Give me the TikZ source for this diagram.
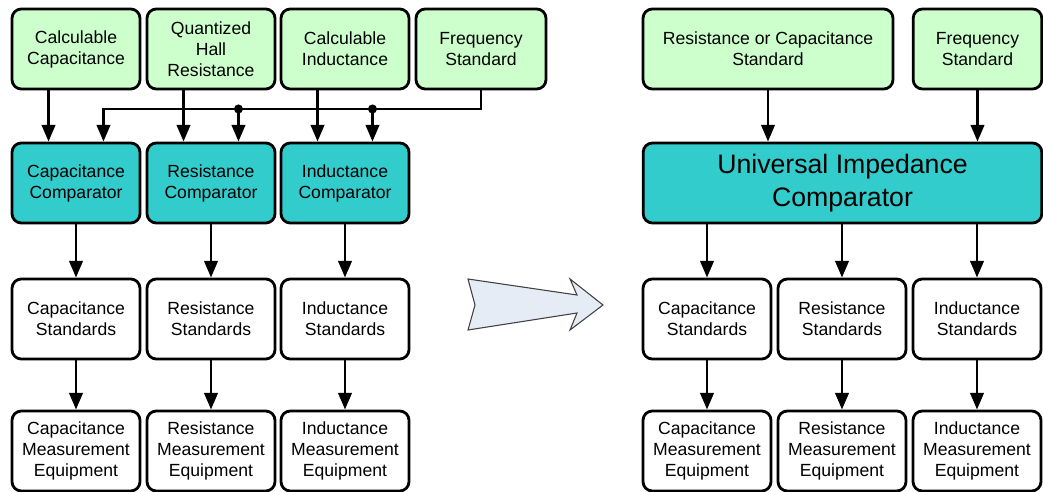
\documentclass[tikz,border=0pt]{standalone}
\usepackage{fontspec}
\setmainfont{Liberation Sans}
\usetikzlibrary{arrows.meta, calc}

\definecolor{stdgreen}{HTML}{CCFFCC}
\definecolor{compteal}{HTML}{33CCCC}
\definecolor{shiftfill}{HTML}{E6ECF6}

\tikzset{
	box/.style = {draw, line width = 2.1pt, rounded corners = 7pt, minimum width = 96pt, minimum height = 60pt, align = center, inner sep = 1pt, font = \fontsize{13.2}{15.75}\selectfont},
	greenbox/.style = {box, fill = stdgreen},
	tealbox/.style = {box, fill = compteal},
	plainbox/.style = {box, fill = white},
	feed/.style = {line width = 2.1pt, -{Triangle[length = 12.5pt, width = 10pt]}},
}

\begin{document}
\begin{tikzpicture}[x = 0.75pt, y = -0.75pt]
		\def\rowa{49};
		\def\rowb{183};
		\def\rowc{319};
		\def\rowd{451};
		
		\useasboundingbox (0,0) rectangle (1043,492);
		
		% old scheme
		\node [greenbox] (calccap) at (76,\rowa) {Calculable\\Capacitance};
		\node [greenbox] (qhr) at (211,\rowa) {Quantized\\Hall\\Resistance};
		\node [greenbox] (calcind) at (345,\rowa) {Calculable\\Inductance};
		\node [greenbox, minimum width = 97.5pt] (freq) at (481,\rowa) {Frequency\\Standard};
		
		\node [tealbox] (capcomp) at (76,\rowb) {Capacitance\\Comparator};
		\node [tealbox] (rescomp) at (211,\rowb) {Resistance\\Comparator};
		\node [tealbox] (indcomp) at (345,\rowb) {Inductance\\Comparator};
		
		\node [plainbox] (capstd) at (76,\rowc) {Capacitance\\Standards};
		\node [plainbox] (resstd) at (211,\rowc) {Resistance\\Standards};
		\node [plainbox] (indstd) at (345,\rowc) {Inductance\\Standards};
		
		\node [plainbox] (capmeas) at (76,\rowd) {Capacitance\\Measurement\\Equipment};
		\node [plainbox] (resmeas) at (211,\rowd) {Resistance\\Measurement\\Equipment};
		\node [plainbox] (indmeas) at (345,\rowd) {Inductance\\Measurement\\Equipment};
		
		\coordinate (bus) at (0,109);
		\foreach \comp/\src in {capcomp/calccap, rescomp/qhr, indcomp/calcind} {
			\coordinate (\comp a) at ($(\comp.north west)!0.29!(\comp.north east)$);
			\coordinate (\comp b) at ($(\comp.north west)!0.71!(\comp.north east)$);
			\draw [feed] (\src.south -| \comp a) -- (\comp a);
		}
		\draw [feed] (freq.south) |- (capcompb |- bus) -- (capcompb);
		\foreach \comp in {rescomp, indcomp} {
			\fill (\comp b |- bus) circle [radius = 3.4pt];
			\draw [feed] (\comp b |- bus) -- (\comp b);
		}
		
		\foreach \comp/\std/\meas in {capcomp/capstd/capmeas, rescomp/resstd/resmeas, indcomp/indstd/indmeas} {
			\draw [feed] (\comp) -- (\std);
			\draw [feed] (\std) -- (\meas);
		}
		
		% shift arrow
		\draw [draw = black!75, line width = 0.8pt, fill = shiftfill] (468,279) -- (577,295) -- (570,279) -- (603,305) -- (570,330) -- (577,313) -- (468,330) -- (475,305) -- cycle;
		
		% new scheme
		\node [greenbox, minimum width = 187.5pt] (rcstd) at (768,\rowa) {Resistance or Capacitance\\Standard};
		\node [greenbox, minimum width = 96.5pt] (rfreq) at (977.5,\rowa) {Frequency\\Standard};
		\node [tealbox, minimum width = 299pt, font = \fontsize{20}{24.75}\selectfont] (uic) at (842.5,\rowb) {Universal Impedance\\Comparator};
		
		\node [plainbox] (rcapstd) at (707,\rowc) {Capacitance\\Standards};
		\node [plainbox] (rresstd) at (842,\rowc) {Resistance\\Standards};
		\node [plainbox] (rindstd) at (977,\rowc) {Inductance\\Standards};
		
		\node [plainbox] (rcapmeas) at (707,\rowd) {Capacitance\\Measurement\\Equipment};
		\node [plainbox] (rresmeas) at (842,\rowd) {Resistance\\Measurement\\Equipment};
		\node [plainbox] (rindmeas) at (977,\rowd) {Inductance\\Measurement\\Equipment};
		
		\draw [feed] (rcstd) -- (rcstd |- uic.north);
		\draw [feed] (rfreq) -- (rfreq |- uic.north);
		\foreach \std/\meas in {rcapstd/rcapmeas, rresstd/rresmeas, rindstd/rindmeas} {
			\draw [feed] (\std |- uic.south) -- (\std);
			\draw [feed] (\std) -- (\meas);
		}
	\end{tikzpicture}
\end{document}
